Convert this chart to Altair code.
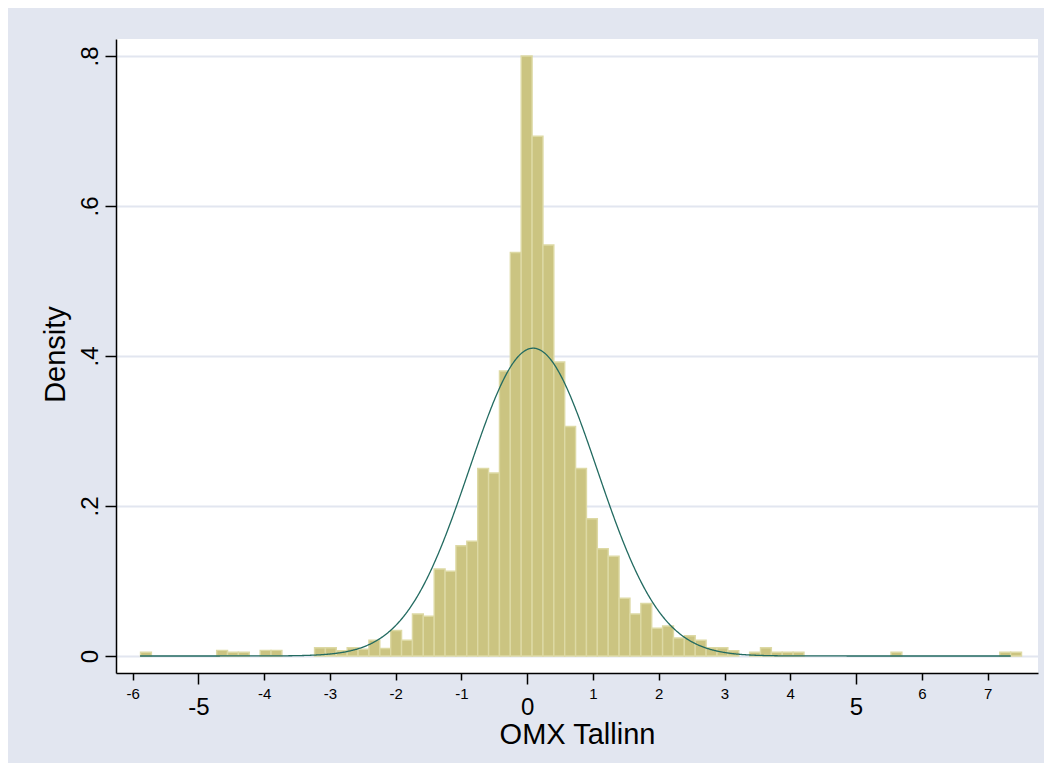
import altair as alt
import pandas as pd

# ---- data ----
BIN_START = -5.881
BIN_WIDTH = 0.1654
DENSITY = [
    0.005, 0, 0, 0, 0, 0, 0, 0.0075, 0.005, 0.005,
    0, 0.0075, 0.0075, 0, 0, 0, 0.011, 0.011, 0.007, 0.011,
    0.009, 0.021, 0.010, 0.034, 0.021, 0.056, 0.053, 0.116, 0.113, 0.147,
    0.153, 0.250, 0.244, 0.380, 0.538, 0.800, 0.693, 0.548, 0.392, 0.306,
    0.250, 0.183, 0.143, 0.133, 0.077, 0.056, 0.070, 0.037, 0.040, 0.024,
    0.027, 0.021, 0.011, 0.011, 0.007, 0, 0.005, 0.011, 0.005, 0.005,
    0.005, 0, 0, 0, 0, 0, 0, 0, 0, 0.005,
    0, 0, 0, 0, 0, 0, 0, 0, 0, 0.005,
    0.005,
]
MU = 0.09
SD = 0.972
CURVE_MIN = -5.888
CURVE_MAX = 7.356
Y_TICKS = [0, 0.2, 0.4, 0.6, 0.8]
X_MAJOR = [-5, 0, 5]
X_MINOR = [-6, -4, -3, -2, -1, 1, 2, 3, 4, 6, 7]

starts = [BIN_START + i * BIN_WIDTH for i in range(len(DENSITY))]
bins = pd.DataFrame({
    "start": starts,
    "end": [s + BIN_WIDTH for s in starts],
    "density": DENSITY,
})
bins = bins[bins["density"] > 0]

BG = "#E2E6F0"
FONT = "Liberation Sans"
PLAIN_INT = "'' + datum.value"

xscale = alt.Scale(domain=[-6.254, 7.767], nice=False, zero=False)
yscale = alt.Scale(domain=[-0.0227, 0.8227], nice=False, zero=False)

yaxis = alt.Axis(
    values=Y_TICKS,
    title="Density",
    titleFontSize=29,
    titleFontWeight="normal",
    titleFont=FONT,
    titleColor="black",
    titleAngle=270,
    titleX=-52,
    titleY=315,
    titleAlign="center",
    titleBaseline="alphabetic",
    labelExpr="datum.value == 0 ? '0' : replace(format(datum.value, '.1f'), '0.', '.')",
    labelAngle=270,
    labelAlign="center",
    labelBaseline="alphabetic",
    labelFontSize=24,
    labelFont=FONT,
    labelColor="black",
    labelPadding=8,
    tickSize=11,
    tickColor="black",
    tickWidth=1.5,
    domainColor="black",
    domainWidth=1.5,
    grid=True,
    gridColor=BG,
    gridWidth=2,
)

xaxis_major = alt.Axis(
    values=X_MAJOR,
    orient="bottom",
    title="OMX Tallinn",
    titleFontSize=29,
    titleFontWeight="normal",
    titleFont=FONT,
    titleColor="black",
    titleX=461,
    titleY=70,
    titleAlign="center",
    titleBaseline="alphabetic",
    labelExpr=PLAIN_INT,
    labelFontSize=24,
    labelFont=FONT,
    labelColor="black",
    labelBaseline="alphabetic",
    labelPadding=30,
    tickSize=11,
    tickColor="black",
    tickWidth=1.5,
    domainColor="black",
    domainWidth=1.5,
    grid=False,
)

xaxis_minor = alt.Axis(
    values=X_MINOR,
    orient="bottom",
    title="",
    labelExpr=PLAIN_INT,
    labelFontSize=15,
    labelFont=FONT,
    labelColor="black",
    labelBaseline="alphabetic",
    labelPadding=18,
    tickSize=7,
    tickColor="black",
    tickWidth=1.5,
    domain=False,
    grid=False,
)

bars = alt.Chart(bins).mark_rect(
    fill="#CBC481", stroke="#DDD9A4", strokeWidth=1.4
).encode(
    x=alt.X("start:Q", scale=xscale, axis=xaxis_major),
    x2="end:Q",
    y=alt.Y("density:Q", scale=yscale, axis=yaxis),
    y2=alt.datum(0),
)

curve = alt.Chart(
    alt.sequence(CURVE_MIN, CURVE_MAX + 0.005, 0.01, as_="x")
).transform_calculate(
    pdf=f"exp(-0.5*pow((datum.x-({MU}))/{SD},2))/({SD}*sqrt(2*PI))"
).mark_line(color="#236B61", strokeWidth=1.3).encode(
    x=alt.X("x:Q", scale=xscale, axis=xaxis_minor),
    y=alt.Y("pdf:Q", scale=yscale, axis=yaxis),
)

chart = alt.layer(bars, curve).resolve_axis(x="independent").properties(
    width=922,
    height=634,
    padding={"left": 108, "top": 31, "right": 6, "bottom": 90},
    autosize=alt.AutoSizeParams(type="none"),
    background=BG,
).configure_view(fill="white", strokeWidth=0)

chart.save("out.html", embed_options={"renderer": "svg", "actions": False})
